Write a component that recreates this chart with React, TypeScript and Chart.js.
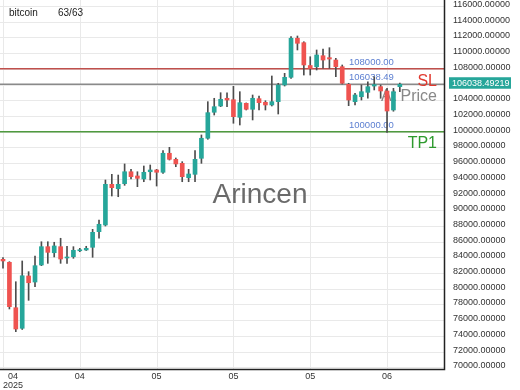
import React, { useEffect, useRef } from 'react';
import { Chart, registerables } from 'chart.js';

Chart.register(...registerables);

const opens = [83750, 83370, 77590, 74970, 81630, 80860, 83030, 85360, 84590, 85360, 83920, 84080, 84840, 84940, 85280, 87270, 88120, 93300, 92740, 93380, 94900, 94360, 93980, 94900, 95120, 94830, 97250, 96480, 95970, 94140, 94570, 96610, 99160, 102470, 103270, 104250, 104070, 101830, 103610, 102850, 104200, 103740, 103400, 103820, 105940, 106920, 111890, 111330, 108420, 108270, 109670, 109420, 109120, 108270, 106030, 103820, 104450, 105010, 105810, 105730, 105180, 102760, 105730];
const highs = [83960, 83450, 80900, 83540, 82180, 84170, 85990, 85990, 85920, 86430, 85400, 85360, 85150, 85410, 87570, 88760, 93850, 94570, 94480, 95890, 95210, 94900, 95630, 95760, 95210, 97580, 98010, 96650, 96180, 95210, 97580, 99580, 103820, 104250, 104960, 104960, 105780, 105090, 103660, 104670, 104540, 103940, 107090, 106160, 107430, 112090, 112180, 111450, 109540, 110400, 110520, 110690, 109340, 108490, 106160, 104890, 105940, 106360, 107000, 105940, 105520, 105520, 106200];
const lows = [82610, 77430, 74540, 74820, 78530, 80270, 82940, 83240, 84050, 83240, 83240, 83880, 84720, 84870, 84010, 86430, 87990, 91810, 91720, 93170, 93980, 93000, 93630, 93850, 93080, 94700, 96390, 95540, 93630, 93630, 93630, 95970, 99030, 102120, 103180, 103180, 101070, 100850, 102760, 101490, 102760, 102760, 103270, 102250, 105810, 106790, 110400, 107210, 107210, 107850, 108070, 108070, 107000, 106070, 103310, 103400, 104030, 104250, 105310, 104250, 99900, 102600, 105090];
const closes = [83540, 77720, 74880, 81660, 80770, 82940, 85360, 84640, 85450, 83790, 84010, 84900, 84910, 85150, 87190, 88210, 93300, 92870, 93300, 94900, 94270, 94060, 94830, 95120, 94830, 97250, 96480, 95890, 94270, 94610, 96480, 99160, 102420, 103180, 104120, 104030, 101910, 103690, 102850, 104250, 103690, 103400, 103820, 105940, 106920, 111890, 111250, 108490, 108040, 109760, 109120, 109250, 108270, 106160, 104030, 104670, 105090, 105730, 106000, 105180, 102630, 105090, 106038.49];

const xTickIndices = [0, 12, 24, 36, 48, 60];
const xTickLabels = ['04', '04', '05', '05', '05', '06'];
const xTickSubLabels = ['2025', '', '', '', '', ''];
const yTickValues = [70000, 72000, 74000, 76000, 78000, 80000, 82000, 84000, 86000, 88000, 90000, 92000, 94000, 96000, 98000, 100000, 102000, 104000, 106000, 108000, 110000, 112000, 114000, 116000];

const levelValues = [108000, 106038.49, 100000];
const levelLabels = ['108000.00', '106038.49', '100000.00'];
const levelColors = ['#c0504d', '#8a8a8a', '#4f9a3f'];
const lastPrice = 106038.49219;
const lastPriceLabel = '106038.49219';
const symbolName = 'bitcoin';
const countLabel = '63/63';
const watermark = 'Arincen';

const UP = '#26a69a';
const DOWN = '#ef5350';
const FONT = '"Liberation Sans", Arial, sans-serif';

const overlayPlugin = {
  id: 'overlay',
  beforeDatasetsDraw(chart: any) {
    const { ctx, chartArea, scales } = chart;
    const xs = scales.x;
    const ys = scales.y;
    ctx.save();
    // grid
    ctx.strokeStyle = '#e9e9e9';
    ctx.lineWidth = 1;
    for (const v of yTickValues) {
      const y = Math.round(ys.getPixelForValue(v)) + 0.5;
      if (y < chartArea.top || y > chartArea.bottom) continue;
      ctx.beginPath();
      ctx.moveTo(chartArea.left, y);
      ctx.lineTo(chartArea.right, y);
      ctx.stroke();
    }
    for (const i of xTickIndices) {
      const x = Math.round(xs.getPixelForValue(i)) + 0.5;
      ctx.beginPath();
      ctx.moveTo(x, chartArea.top);
      ctx.lineTo(x, chartArea.bottom);
      ctx.stroke();
    }
    // watermark
    ctx.fillStyle = '#6a6a6a';
    ctx.font = `28px ${FONT}`;
    ctx.textAlign = 'center';
    ctx.textBaseline = 'alphabetic';
    ctx.fillText(watermark, 260, 203);
    // level lines
    levelValues.forEach((v, k) => {
      const y = ys.getPixelForValue(v);
      ctx.strokeStyle = levelColors[k];
      ctx.lineWidth = 1.5;
      ctx.beginPath();
      ctx.moveTo(chartArea.left, y);
      ctx.lineTo(chartArea.right, y);
      ctx.stroke();
      ctx.fillStyle = '#5c7fd1';
      ctx.font = `9.5px ${FONT}`;
      ctx.textAlign = 'left';
      ctx.textBaseline = 'middle';
      ctx.fillText(levelLabels[k], 349, y - 6.7);
    });
    // side labels
    ctx.font = `16px ${FONT}`;
    ctx.textAlign = 'right';
    ctx.textBaseline = 'middle';
    const ySL = ys.getPixelForValue(levelValues[1]);
    ctx.fillStyle = '#e0392f';
    ctx.fillText('SL', 437, ySL - 2.5);
    ctx.fillStyle = '#888888';
    ctx.fillText('At Price', 437, ySL + 12.5);
    const yTP = ys.getPixelForValue(levelValues[2]);
    ctx.fillStyle = '#2e9a2e';
    ctx.fillText('TP1', 437, yTP + 12);
    ctx.restore();
  },
  afterDatasetsDraw(chart: any) {
    const { ctx, chartArea, scales } = chart;
    const xs = scales.x;
    const ys = scales.y;
    ctx.save();
    // axis borders
    ctx.strokeStyle = '#222222';
    ctx.lineWidth = 1.5;
    ctx.beginPath();
    ctx.moveTo(chartArea.right + 0.5, chartArea.top);
    ctx.lineTo(chartArea.right + 0.5, chartArea.bottom + 0.5);
    ctx.lineTo(chartArea.left, chartArea.bottom + 0.5);
    ctx.stroke();
    // y labels
    ctx.fillStyle = '#333333';
    ctx.font = `9px ${FONT}`;
    ctx.textAlign = 'left';
    ctx.textBaseline = 'middle';
    for (const v of yTickValues) {
      const y = ys.getPixelForValue(v) - 1.5;
      ctx.fillText(v.toFixed(5), chartArea.right + 9, y);
    }
    // last price box
    const yp = ys.getPixelForValue(lastPrice) - 1.5;
    ctx.fillStyle = UP;
    ctx.fillRect(chartArea.right + 5, yp - 5.5, 62, 11.5);
    ctx.fillStyle = '#ffffff';
    ctx.fillText(lastPriceLabel, chartArea.right + 8, yp + 0.5);
    // x labels
    ctx.fillStyle = '#333333';
    ctx.textAlign = 'center';
    xTickIndices.forEach((i, k) => {
      let x = xs.getPixelForValue(i);
      const w = Math.max(ctx.measureText(xTickLabels[k]).width, ctx.measureText(xTickSubLabels[k]).width);
      if (x - w / 2 < chartArea.left + 3) x = chartArea.left + 3 + w / 2;
      ctx.fillText(xTickLabels[k], x, chartArea.bottom + 7.5);
      if (xTickSubLabels[k]) ctx.fillText(xTickSubLabels[k], x, chartArea.bottom + 16.5);
    });
    // title
    ctx.fillStyle = '#222222';
    ctx.font = `10px ${FONT}`;
    ctx.textAlign = 'left';
    ctx.fillText(symbolName, 9, 13);
    ctx.fillText(countLabel, 58, 13);
    ctx.restore();
  },
};

export default function App() {
  const ref = useRef<HTMLCanvasElement | null>(null);
  useEffect(() => {
    if (!ref.current) return;
    const bodyColors = opens.map((o, i) => (closes[i] >= o ? UP : DOWN));
    const chart = new Chart(ref.current, {
      type: 'bar',
      data: {
        datasets: [
          {
            label: 'body',
            data: opens.map((o, i) => ({ x: i, y: [o, closes[i]] })) as any,
            backgroundColor: bodyColors,
            borderWidth: 0,
            barThickness: 4,
            minBarLength: 1,
            grouped: false,
            order: 0,
          },
          {
            label: 'wick',
            data: lows.map((l, i) => ({ x: i, y: [l, highs[i]] })) as any,
            backgroundColor: '#4d4d4d',
            borderWidth: 0,
            barThickness: 1,
            grouped: false,
            order: 1,
          },
        ],
      },
      options: {
        responsive: false,
        animation: false,
        devicePixelRatio: 1,
        events: [],
        layout: { padding: { left: 0, top: 0, right: 76, bottom: 21 } },
        plugins: { legend: { display: false }, tooltip: { enabled: false }, title: { display: false } },
        scales: {
          x: { type: 'linear', min: -0.47, max: 68.9, offset: false, display: false, grid: { offset: false } },
          y: { type: 'linear', min: 69788, max: 116762, display: false },
        },
      } as any,
      plugins: [overlayPlugin],
    });
    return () => chart.destroy();
  }, []);
  return (
    <div style={{ position: 'fixed', left: 0, top: 0, width: 520, height: 390, background: '#ffffff' }}>
      <canvas ref={ref} width={520} height={390} style={{ width: 520, height: 390, display: 'block' }} />
    </div>
  );
}
